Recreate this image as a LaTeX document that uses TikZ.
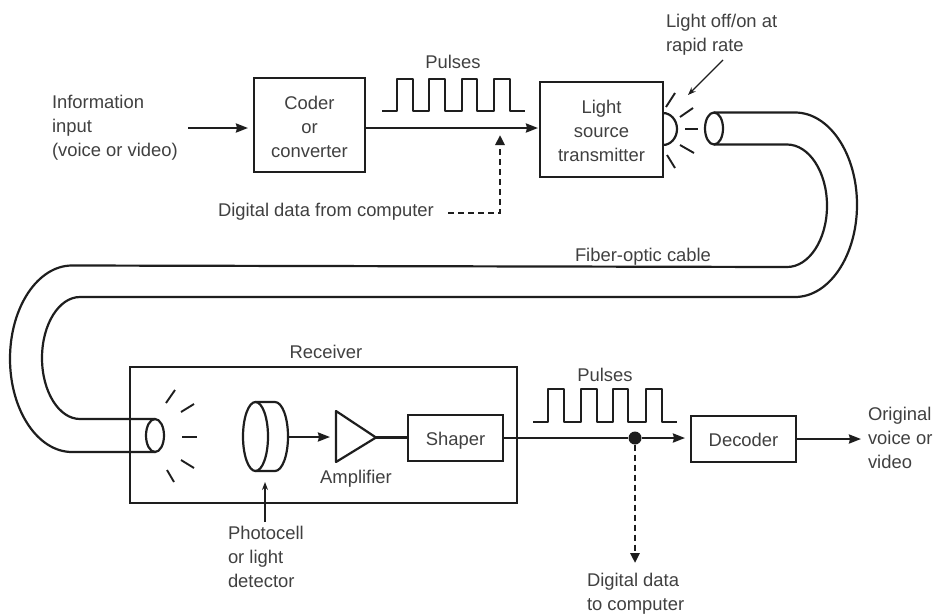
\documentclass[tikz,border=0pt]{standalone}
\usepackage{fontspec}
\setmainfont{Liberation Sans}
\usetikzlibrary{arrows.meta,shapes.geometric}
\definecolor{ink}{HTML}{1E1E1E}
\definecolor{txt}{HTML}{404040}
\newcommand{\nudge}[1]{\rule{0pt}{#1pt}}
\tikzset{
  wire/.style={draw=ink,line width=2.2pt,line join=round},
  thinwire/.style={draw=ink,line width=1.3pt},
  flow/.style={wire,-{Stealth[length=12pt,width=9pt,inset=1pt]}},
  thinflow/.style={thinwire,-{Stealth[length=8pt,width=6pt]}},
  dashflow/.style={draw=ink,line width=2.6pt,dash pattern=on 6pt off 4pt,-{Stealth[length=10pt,width=9pt,inset=0pt]}},
  block/.style={draw=ink,line width=2.2pt,inner sep=0pt,outer sep=0pt,align=center},
  lab/.style={text=txt,inner sep=0pt,outer sep=0pt,align=center,font=\fontsize{18.4}{24}\selectfont},
  lableft/.style={lab,align=left},
  endcap/.style={draw=ink,line width=2.2pt,ellipse,inner sep=0pt,outer sep=0pt},
  ray/.style={draw=ink,line width=1.9pt},
  dot/.style={circle,fill=ink,draw=none,minimum size=13pt,inner sep=0pt},
}
\begin{document}
\begin{tikzpicture}[x=1pt,y=-1pt]
\useasboundingbox (0,0) rectangle (933,614);
\fill[white] (0,0) rectangle (933,614);

% boxes
\node[block,lab,draw=ink,minimum width=111pt,minimum height=94pt] (coder) at (309.5,125) {\nudge{17}Coder\\or\\converter};
\node[block,lab,draw=ink,minimum width=123pt,minimum height=95pt] (light) at (601.5,129.5) {\nudge{17}Light\\source\\transmitter};
\node[block,minimum width=387pt,minimum height=136pt] (receiver) at (323.5,435) {};
\node[block,lab,draw=ink,minimum width=95pt,minimum height=46pt] (shaper) at (455.5,438) {\nudge{19}Shaper};
\node[block,lab,draw=ink,minimum width=105pt,minimum height=46pt] (decoder) at (743.5,439) {\nudge{15}Decoder};

% labels
\node[lableft,anchor=west] (info) at (52,128) {Information\\input\\(voice or video)};
\node[lab] (pulsesA) at (453,62) {Pulses};
\node[lab] (pulsesB) at (605,375) {Pulses};
\node[lableft,anchor=west] (digfrom) at (218,211.5) {Digital data from computer};
\node[lableft,anchor=west] (lightoff) at (666,35) {Light off/on at\\rapid rate};
\node[lab] (fiber) at (643,256.5) {Fiber-optic cable};
\node[lab] (recv) at (326,352) {Receiver};
\node[lab] (amplab) at (356,479) {Amplifier};
\node[lableft,anchor=west] (photo) at (228,557) {Photocell\\or light\\detector};
\node[lableft,anchor=west] (orig) at (868,437.5) {Original\\voice or\\video};
\node[lableft,anchor=west] (digto) at (587,593.5) {Digital data\\to computer};

% forward path
\coordinate (inS) at (188,128);
\coordinate (inE) at (248,128);
\coordinate (lineA) at (0,128);
\coordinate (lineE) at (538,128);
\coordinate (dashS) at (448,213);
\coordinate (dashC) at (500,213);
\coordinate (dashE) at (500,135);
\draw[flow] (inS) -- (inE);
\draw[flow] (coder.east |- lineA) -- (lineE);
\draw[dashflow] (dashS) -- (dashC) -- (dashE);

% LED at the transmitter
\coordinate (ledT) at (663,113);
\draw[wire] (ledT) arc[start angle=90,end angle=-90,x radius=14pt,y radius=16pt];
\draw[ray] (666,107) -- (675,93);
\draw[ray] (680,117) -- (693,108);
\draw[ray] (685,129) -- (698,129);
\draw[ray] (680,145) -- (694,153);
\draw[ray] (667,155) -- (675,168);
\coordinate (noteS) at (723,60);
\coordinate (noteE) at (688,95);
\draw[thinflow] (noteS) -- (noteE);

% fibre cable
\node[endcap,minimum width=18pt,minimum height=32pt] (endA) at (714,128.5) {};
\node[endcap,minimum width=18pt,minimum height=33pt] (endB) at (155,435.5) {};
\draw[wire] (endA.north) -- (795,112.5) arc[start angle=90,end angle=-90,x radius=62pt,y radius=92.25pt] -- (80,297)
  arc[start angle=90,end angle=270,x radius=38pt,y radius=61pt] -- (endB.north);
\draw[wire] (endA.south) -- (787,144.5) arc[start angle=90,end angle=-90,x radius=40pt,y radius=61.25pt] -- (72,265.5)
  arc[start angle=90,end angle=270,x radius=62pt,y radius=93.25pt] -- (endB.south);

% rays in the receiver
\draw[ray] (166,403) -- (175,390);
\draw[ray] (181,412) -- (194,404);
\draw[ray] (182,437) -- (197,437);
\draw[ray] (181,460) -- (194,468);
\draw[ray] (167,470) -- (174,482);

% photocell
\node[endcap,minimum width=25pt,minimum height=69pt] (cell) at (255.5,436.5) {};
\coordinate (cellOut) at (288,437);
\coordinate (ampIn) at (330,437);
\draw[wire] (cell.north) -- (275,402) arc[start angle=90,end angle=-90,x radius=13pt,y radius=34.5pt] -- (cell.south);
\draw[flow] (cellOut) -- (ampIn);

% amplifier
\coordinate (ampA) at (336,411);
\coordinate (ampB) at (336,462);
\coordinate (ampTip) at (376,437.5);
\draw[wire] (ampA) -- (ampTip) -- (ampB) -- cycle;
\draw[wire] (ampTip) -- (shaper.west |- ampTip);
\coordinate (photoS) at (265,522);
\coordinate (photoE) at (265,482);
\draw[thinflow] (photoS) -- (photoE);

% output
\node[dot] (tap) at (635,438) {};
\coordinate (decIn) at (685,438);
\draw[wire] (shaper.east) -- (tap);
\draw[flow] (tap) -- (decIn);
\coordinate (outE) at (861,439);
\draw[flow] (decoder.east) -- (outE);
\coordinate (tapE) at (635,563);
\draw[dashflow] (tap.south) -- (tapE);

% pulse trains
\coordinate (pA) at (382,111);
\draw[wire] (pA) -- ++(15,0) -- ++(0,-32) -- ++(16,0) -- ++(0,32) -- ++(16,0) -- ++(0,-32) -- ++(16,0) -- ++(0,32) -- ++(17,0) -- ++(0,-32) -- ++(15,0) -- ++(0,32) -- ++(17,0) -- ++(0,-32) -- ++(16,0) -- ++(0,32) -- ++(15,0);
\coordinate (pB) at (533,422);
\draw[wire] (pB) -- ++(15,0) -- ++(0,-33) -- ++(16,0) -- ++(0,33) -- ++(17,0) -- ++(0,-33) -- ++(16,0) -- ++(0,33) -- ++(16,0) -- ++(0,-33) -- ++(15,0) -- ++(0,33) -- ++(18,0) -- ++(0,-33) -- ++(16,0) -- ++(0,33) -- ++(15,0);
\end{tikzpicture}
\end{document}
